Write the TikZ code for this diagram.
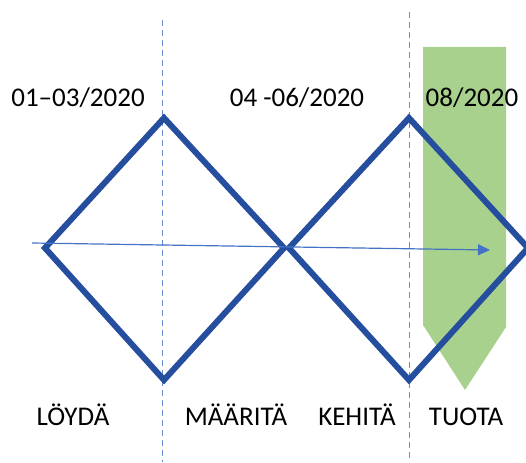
\documentclass[tikz,border=0pt]{standalone}
\usepackage{fontspec}
\setmainfont{Carlito}
\usetikzlibrary{arrows.meta}
\definecolor{diamondblue}{RGB}{38,78,158}
\definecolor{arrowblue}{RGB}{68,114,196}
\definecolor{dashblue}{RGB}{100,140,210}
\definecolor{phasegreen}{RGB}{169,209,142}
\begin{document}
\begin{tikzpicture}[x=1pt,y=-1pt,
  phase/.style={font=\fontsize{27}{32}\selectfont,inner sep=0pt,anchor=base},
  diamond/.style={diamondblue,line width=6pt,line join=miter}]

\useasboundingbox (0,0) rectangle (526,462) ;

\fill[phasegreen] (423,47) -- (506,47) -- (506,327) -- (465,390) -- (423,325) -- cycle ;

\draw[dashblue,dashed,dash pattern=on 6pt off 4pt] (162,20) -- (162,462) ;
\draw[dashblue,dashed,dash pattern=on 6pt off 4pt] (409,12) -- (409,462) ;

\draw[diamond] (45,248) -- (164,118) -- (284,248) -- (164,380) -- cycle ;
\draw[diamond] (289,248) -- (409,118) -- (528,248) -- (409,380) -- cycle ;

\coordinate (arrow_start) at (32,243) ;
\coordinate (arrow_end) at (490,250) ;
\draw[arrowblue,line width=1.2pt,-{Triangle[length=12pt,width=11pt]}] (arrow_start) -- (arrow_end) ;

\node[phase] (date_1) at (78,107) {01–03/2020} ;
\node[phase] (date_2) at (297,107) {04 -06/2020} ;
\node[phase] (date_3) at (472,107) {08/2020} ;

\node[phase] (loyda) at (73,425) {LÖYDÄ} ;
\node[phase] (maarita) at (236,425) {MÄÄRITÄ} ;
\node[phase] (kehita) at (357,425) {KEHITÄ} ;
\node[phase] (tuota) at (466,425) {TUOTA} ;

\end{tikzpicture}
\end{document}
